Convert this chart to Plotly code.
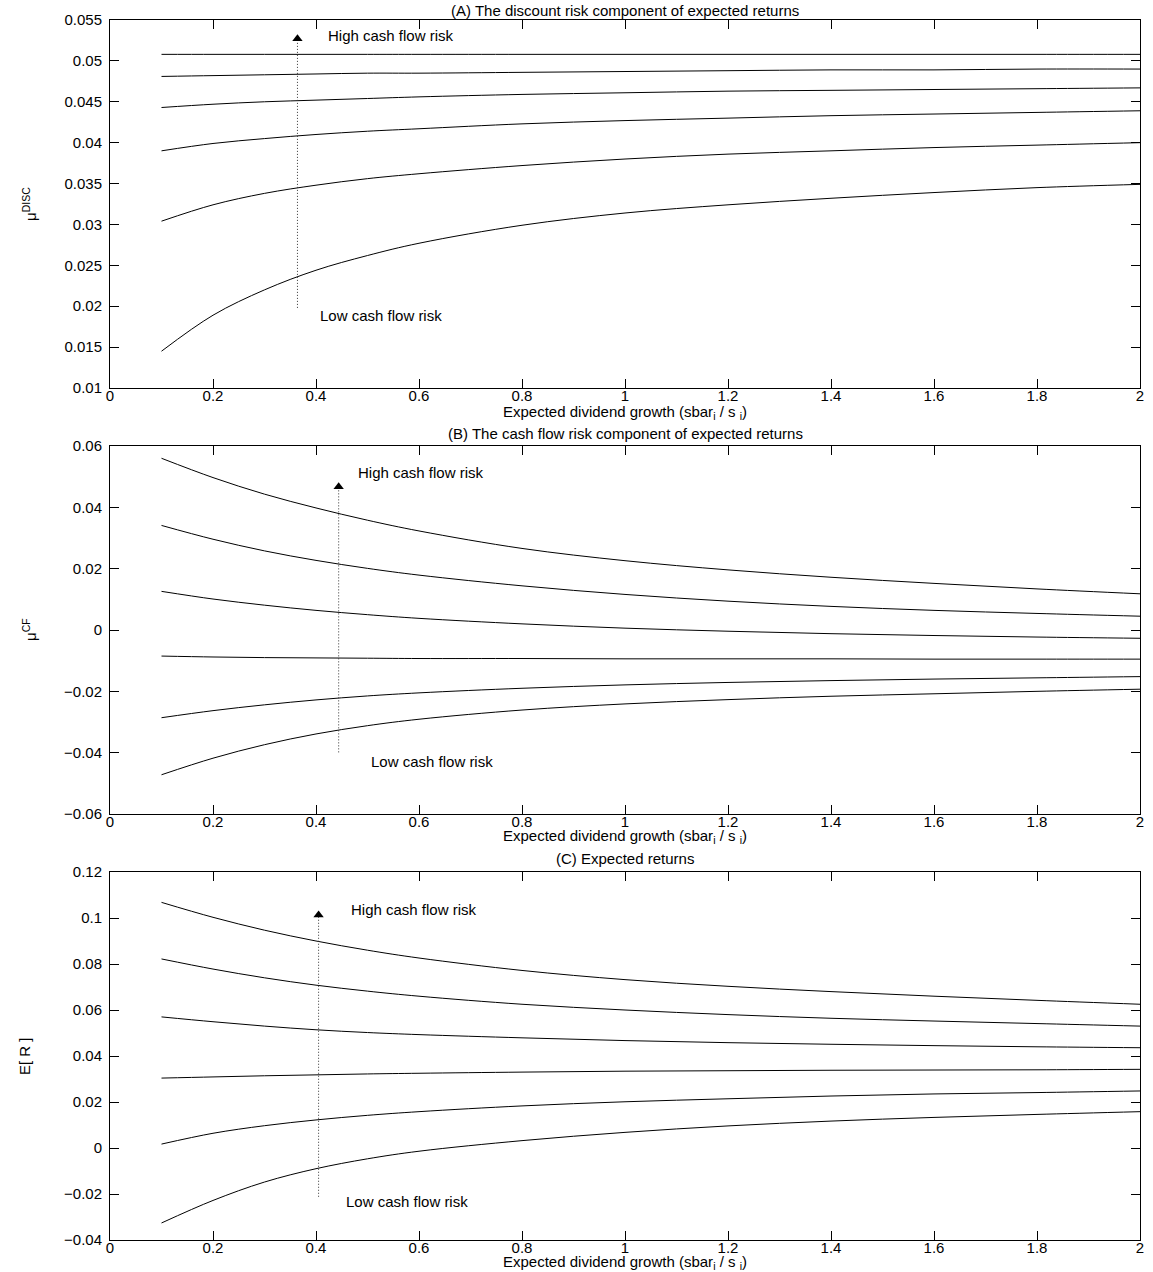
import plotly.graph_objects as go

# ---------------- data ----------------
x_vals = [0.1, 0.2, 0.3, 0.4, 0.5, 0.6, 0.8, 1.0, 1.2, 1.4, 1.6, 1.8, 2.0]

mu_disc = [
    [0.0508, 0.0508, 0.0508, 0.0508, 0.0508, 0.0508, 0.0508, 0.0508, 0.0508, 0.0508, 0.0508, 0.0508, 0.0508],
    [0.0481, 0.0482, 0.0483, 0.0484, 0.0485, 0.0485, 0.0486, 0.0487, 0.0488, 0.0489, 0.0489, 0.0490, 0.0490],
    [0.0443, 0.0447, 0.0450, 0.0452, 0.0454, 0.0456, 0.0459, 0.0461, 0.0463, 0.0464, 0.0465, 0.0466, 0.0467],
    [0.0390, 0.0399, 0.0405, 0.0410, 0.0414, 0.0417, 0.0423, 0.0427, 0.0430, 0.0433, 0.0435, 0.0437, 0.0439],
    [0.0304, 0.0324, 0.0338, 0.0348, 0.0356, 0.0362, 0.0372, 0.0380, 0.0386, 0.0390, 0.0394, 0.0397, 0.0400],
    [0.0145, 0.0189, 0.0220, 0.0244, 0.0262, 0.0277, 0.0299, 0.0314, 0.0324, 0.0332, 0.0339, 0.0345, 0.0349],
]

mu_cf = [
    [0.0560, 0.0497, 0.0443, 0.0398, 0.0358, 0.0323, 0.0266, 0.0226, 0.0196, 0.0172, 0.0152, 0.0134, 0.0118],
    [0.0341, 0.0296, 0.0258, 0.0227, 0.0201, 0.0179, 0.0144, 0.0116, 0.0094, 0.0077, 0.0064, 0.0054, 0.0045],
    [0.0126, 0.0101, 0.0081, 0.0064, 0.0050, 0.0038, 0.0020, 0.0006, -0.0004, -0.0012, -0.0018, -0.0023, -0.0027],
    [-0.0085, -0.0088, -0.0090, -0.0091, -0.0092, -0.0093, -0.0093, -0.0094, -0.0094, -0.0094, -0.0095, -0.0095, -0.0095],
    [-0.0286, -0.0263, -0.0244, -0.0228, -0.0215, -0.0205, -0.0190, -0.0179, -0.0171, -0.0165, -0.0160, -0.0156, -0.0152],
    [-0.0472, -0.0418, -0.0374, -0.0339, -0.0312, -0.0291, -0.0261, -0.0241, -0.0227, -0.0216, -0.0208, -0.0200, -0.0193],
]

exp_ret = [
    [0.1068, 0.1003, 0.0947, 0.0900, 0.0860, 0.0826, 0.0772, 0.0732, 0.0703, 0.0680, 0.0660, 0.0642, 0.0625],
    [0.0822, 0.0778, 0.0740, 0.0708, 0.0682, 0.0660, 0.0625, 0.0600, 0.0580, 0.0564, 0.0552, 0.0541, 0.0530],
    [0.0570, 0.0549, 0.0530, 0.0514, 0.0502, 0.0493, 0.0479, 0.0467, 0.0458, 0.0451, 0.0445, 0.0440, 0.0436],
    [0.0304, 0.0309, 0.0314, 0.0318, 0.0322, 0.0325, 0.0330, 0.0334, 0.0336, 0.0338, 0.0339, 0.0340, 0.0342],
    [0.0017, 0.0064, 0.0097, 0.0122, 0.0142, 0.0158, 0.0183, 0.0201, 0.0214, 0.0226, 0.0235, 0.0241, 0.0248],
    [-0.0326, -0.0228, -0.0148, -0.0090, -0.0047, -0.0014, 0.0032, 0.0068, 0.0096, 0.0117, 0.0133, 0.0146, 0.0158],
]

x_ticks = [0, 0.2, 0.4, 0.6, 0.8, 1, 1.2, 1.4, 1.6, 1.8, 2]
x_ticktext = ["0", "0.2", "0.4", "0.6", "0.8", "1", "1.2", "1.4", "1.6", "1.8", "2"]

yA_ticks = [0.01, 0.015, 0.02, 0.025, 0.03, 0.035, 0.04, 0.045, 0.05, 0.055]
yA_text = ["0.01", "0.015", "0.02", "0.025", "0.03", "0.035", "0.04", "0.045", "0.05", "0.055"]
yB_ticks = [-0.06, -0.04, -0.02, 0, 0.02, 0.04, 0.06]
yB_text = ["\u22120.06", "\u22120.04", "\u22120.02", "0", "0.02", "0.04", "0.06"]
yC_ticks = [-0.04, -0.02, 0, 0.02, 0.04, 0.06, 0.08, 0.1, 0.12]
yC_text = ["\u22120.04", "\u22120.02", "0", "0.02", "0.04", "0.06", "0.08", "0.1", "0.12"]

panel_titles = ["(A) The discount risk component of expected returns",
                "(B) The cash flow risk component of expected returns",
                "(C) Expected returns"]
y_titles = ["\u03bc<sup>DISC</sup>", "\u03bc<sup>CF</sup>", "E[ R ]"]
x_title = "Expected dividend growth (sbar<sub>i</sub> / s <sub>i</sub>)"

# arrow (x, y_low, y_high) and label positions
arrows = [(0.364, 0.0198, 0.0527), (0.444, -0.0399, 0.0467), (0.405, -0.0212, 0.1013)]
high_lbl = [(0.42, 0.0531), (0.478, 0.0514), (0.464, 0.1035)]
low_lbl = [(0.403, 0.0189), (0.502, -0.0429), (0.455, -0.0232)]

# ---------------- layout ----------------
W, H = 1153, 1272
FONT = "Liberation Sans, Arial, Helvetica, sans-serif"
FS = 15
L, R = 110, 1140

def py(p):
    """page pixel (from top) -> paper fraction"""
    return 1 - p / H

def px(p):
    """page pixel (from left) -> paper fraction"""
    return (p - L) / (R - L)

panels_px = [(20, 388), (446, 814), (872, 1240)]
title_px = [10, 433, 858]
xtitle_px = [412, 836, 1262]
xlabel_standoff = [-6, -6, -6]
yranges = [[0.01, 0.055], [-0.06, 0.06], [-0.04, 0.12]]
yticks = [(yA_ticks, yA_text), (yB_ticks, yB_text), (yC_ticks, yC_text)]
datasets = [mu_disc, mu_cf, exp_ret]
ytitle_x = [30, 30, 24]

fig = go.Figure()
annotations = []
tfont = dict(family=FONT, size=FS, color="black")

for i in range(3):
    xa = "x" if i == 0 else f"x{i+1}"
    ya = "y" if i == 0 else f"y{i+1}"
    for series in datasets[i]:
        fig.add_trace(go.Scatter(x=x_vals, y=series, mode="lines", xaxis=xa, yaxis=ya,
                                 line=dict(color="black", width=1, shape="spline", smoothing=1.0),
                                 showlegend=False, hoverinfo="skip"))
    ax, ylo, yhi = arrows[i]
    fig.add_trace(go.Scatter(x=[ax, ax], y=[ylo, yhi], mode="lines", xaxis=xa, yaxis=ya,
                             line=dict(color="#333333", width=1, dash="1px,2px"),
                             showlegend=False, hoverinfo="skip"))
    fig.add_trace(go.Scatter(x=[ax], y=[yhi], mode="markers", xaxis=xa, yaxis=ya,
                             marker=dict(symbol="triangle-up", size=9, color="black"),
                             showlegend=False, hoverinfo="skip"))

    top, bot = panels_px[i]
    axis_common = dict(showgrid=False, zeroline=False, showline=True, linecolor="black",
                       linewidth=1, mirror="ticks", ticks="inside", ticklen=9,
                       tickcolor="black", tickwidth=1, automargin=False,
                       tickfont=tfont)
    xkey = "xaxis" if i == 0 else f"xaxis{i+1}"
    ykey = "yaxis" if i == 0 else f"yaxis{i+1}"
    fig.update_layout(**{
        xkey: dict(domain=[0, 1], range=[0, 2], tickvals=x_ticks, ticktext=x_ticktext,
                   anchor=ya, ticklabelstandoff=xlabel_standoff[i], **axis_common),
        ykey: dict(domain=[py(bot), py(top)], range=yranges[i], tickvals=yticks[i][0],
                   ticktext=yticks[i][1], anchor=xa, ticklabelstandoff=4, **axis_common),
    })

    annotations.append(dict(text=panel_titles[i], xref="paper", yref="paper", x=px(625),
                            y=py(title_px[i]), xanchor="center", yanchor="middle",
                            showarrow=False, font=tfont))
    annotations.append(dict(text=x_title, xref="paper", yref="paper", x=px(625),
                            y=py(xtitle_px[i]), xanchor="center", yanchor="middle",
                            showarrow=False, font=tfont))
    annotations.append(dict(text=y_titles[i], xref="paper", yref="paper",
                            x=px(ytitle_x[i]), y=py((top + bot) / 2),
                            xanchor="center", yanchor="middle", textangle=-90,
                            showarrow=False, font=tfont))
    hx, hy = high_lbl[i]
    lx, lyv = low_lbl[i]
    annotations.append(dict(text="High cash flow risk", xref=xa, yref=ya, x=hx, y=hy,
                            xanchor="left", yanchor="middle", showarrow=False, font=tfont))
    annotations.append(dict(text="Low cash flow risk", xref=xa, yref=ya, x=lx, y=lyv,
                            xanchor="left", yanchor="middle", showarrow=False, font=tfont))

fig.update_layout(width=W, height=H, margin=dict(l=L, r=W - R, t=0, b=0, autoexpand=False),
                  paper_bgcolor="white", plot_bgcolor="white",
                  annotations=annotations, showlegend=False)

# remove the browser's default 8px page margin so the figure sits at the window origin
fig.write_html("out.html", config={"displayModeBar": False, "staticPlot": True},
               post_script="document.body.style.margin='0px';")
